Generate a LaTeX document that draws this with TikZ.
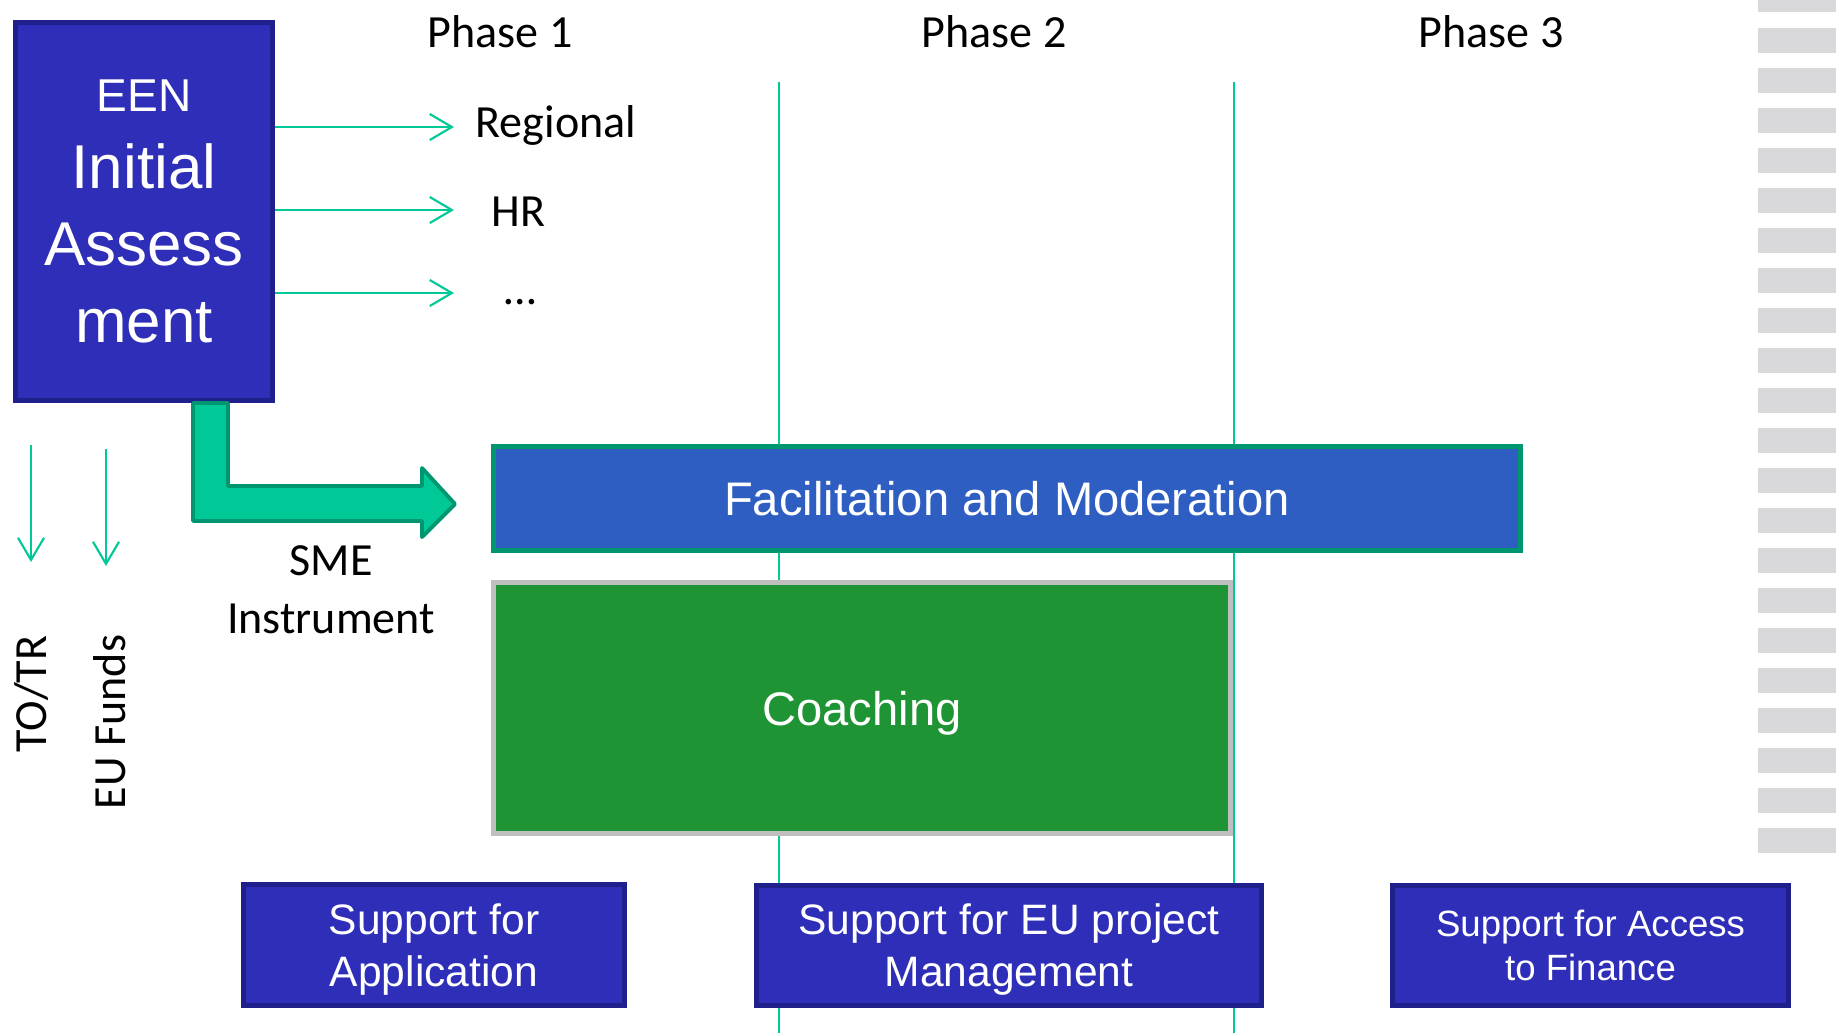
\documentclass[tikz,border=0pt]{standalone}
\usepackage{fontspec}
\setmainfont{Carlito}
\newfontfamily\arialfont{Liberation Sans}
\usepackage{xcolor}
\usetikzlibrary{arrows.meta}
\usetikzlibrary{shapes}

\definecolor{eenblue}{RGB}{46,46,184}
\definecolor{eenborder}{RGB}{32,32,140}
\definecolor{facilblue}{RGB}{46,94,194}
\definecolor{seagreen}{RGB}{0,150,112}
\definecolor{mint}{RGB}{0,200,150}
\definecolor{coachgreen}{RGB}{31,148,52}
\definecolor{coachborder}{RGB}{191,191,191}
\definecolor{stripegray}{RGB}{217,217,220}

\begin{document}
\begin{tikzpicture}[x=0.01cm, y=-0.01cm,
	bluebox/.style={draw=eenborder, fill=eenblue, line width=1.4pt, text=white, align=center, inner sep=0pt, text depth=0pt, font=\arialfont\fontsize{12.1}{14.8}\selectfont},
	blacktext/.style={inner sep=0pt, font=\fontsize{13.1}{16}\selectfont},
	thinarrow/.style={line width=0.6pt, color=mint, -{Straight Barb[length=6.3pt, width=7.4pt]}}]
	\fill[white] (0,0) rectangle (1836,1033);
	\useasboundingbox (0,0) rectangle (1836,1033);
	%
	% phase separators
	\draw[line width=0.45pt, color=mint] (779,82) -- (779,1033);
	\draw[line width=0.45pt, color=mint] (1234,82) -- (1234,1033);
	%
	% stripes on the right edge
	\fill[stripegray] (1758,0) rectangle (1836,12);
	\foreach \k in {0,...,20}
		\fill[stripegray] (1758,{28+40*\k}) rectangle (1836,{53+40*\k});
	%
	% boxes
	\node[bluebox, minimum width=2.57cm, minimum height=3.78cm, font=\arialfont\fontsize{17.6}{21.9}\selectfont] (een) at (144,211.5) {{\fontsize{13.1}{21.9}\selectfont EEN}\\Initial\\Assess\\ment};
	\node[bluebox, draw=seagreen, fill=facilblue, minimum width=10.27cm, minimum height=1.04cm, font=\arialfont\fontsize{13.4}{16}\selectfont] (facil) at (1007,498.5) {Facilitation and Moderation};
	\node[bluebox, draw=coachborder, fill=coachgreen, minimum width=7.37cm, minimum height=2.51cm, font=\arialfont\fontsize{13.4}{16}\selectfont] (coach) at (862,708) {Coaching};
	\node[bluebox, minimum width=3.81cm, minimum height=1.21cm] (supapp) at (434,945) {Support for\\Application};
	\node[bluebox, minimum width=5.05cm, minimum height=1.2cm] (supeu) at (1009,945.5) {Support for EU project\\Management};
	\node[bluebox, minimum width=3.96cm, minimum height=1.2cm, font=\arialfont\fontsize{10.4}{12.5}\selectfont] (supfin) at (1590.5,945.5) {Support for Access\\to Finance};
	%
	% SME instrument arrow
	\draw[fill=mint, draw=seagreen, line width=1.1pt, line join=round] (193,403) -- (193,521) -- (422,521) -- (422,537) -- (455,504) -- (422,468) -- (422,486) -- (228,486) -- (228,403) -- cycle;
	%
	% thin arrows
	\coordinate (regend) at (454,127);
	\coordinate (hrend) at (454,210);
	\coordinate (dotsend) at (454,293);
	\draw[thinarrow] (een.east |- regend) -- (regend);
	\draw[thinarrow] (een.east |- hrend) -- (hrend);
	\draw[thinarrow] (een.east |- dotsend) -- (dotsend);
	%
	\coordinate (totop) at (31,445);
	\coordinate (tobot) at (31,562);
	\coordinate (eutop) at (106,449);
	\coordinate (eubot) at (106,566);
	\draw[thinarrow] (totop) -- (tobot);
	\draw[thinarrow] (eutop) -- (eubot);
	%
	% nodes -- text
	\node[blacktext, anchor=base] (ph1) at (500,47) {Phase 1};
	\node[blacktext, anchor=base] (ph2) at (994,47) {Phase 2};
	\node[blacktext, anchor=base] (ph3) at (1491,47) {Phase 3};
	\node[blacktext, anchor=base west] (reg) at (475,137) {Regional};
	\node[blacktext, anchor=base west] (hr) at (491,226) {HR};
	\node[blacktext, anchor=base west] (dots) at (504,304) {\dots};
	\node[blacktext, align=center, font=\fontsize{13.1}{16.5}\selectfont] (sme) at (331,590) {SME\\Instrument};
	\node[blacktext, anchor=base, rotate=90] (totr) at (47,694) {TO/TR};
	\node[blacktext, anchor=base, rotate=90] (eufunds) at (125,722) {EU Funds};
\end{tikzpicture}
\end{document}
